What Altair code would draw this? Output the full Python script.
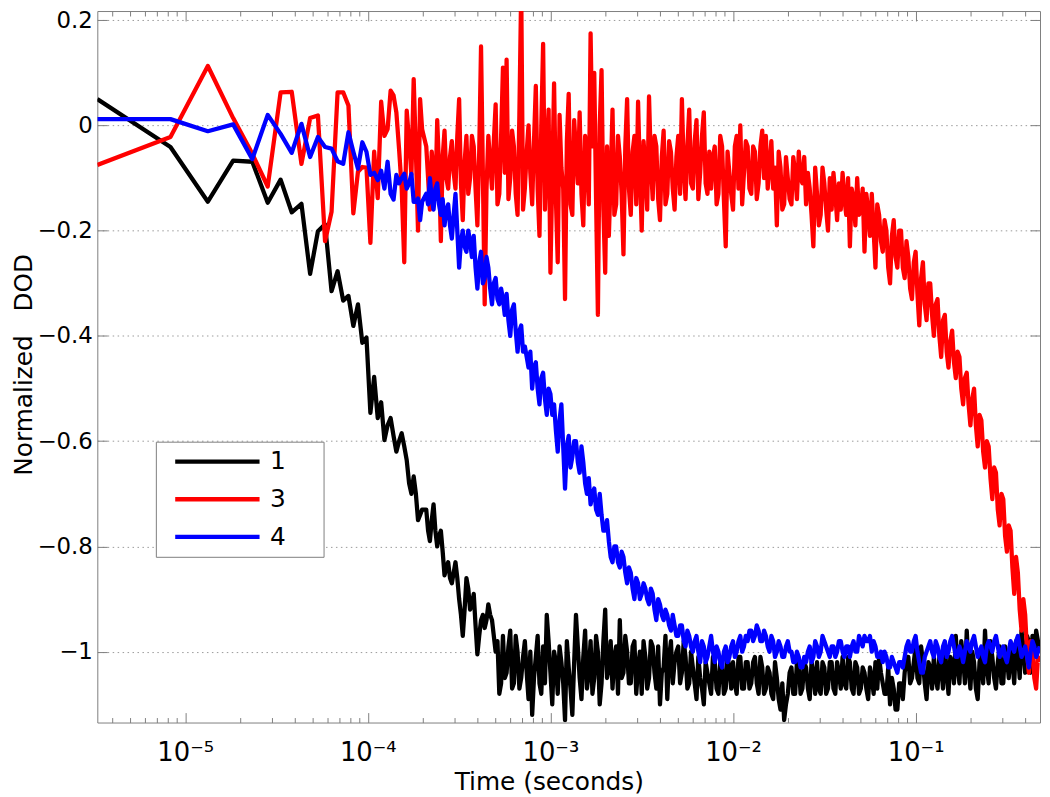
import altair as alt
import pandas as pd

# ---------------- data ----------------
# first samples (microseconds), individually visible on the log axis
early_t_us = [3.3, 8.3, 13.3, 18.3, 23.3, 28.3, 33.3, 38.3, 43.3, 48.3,
              53.3, 58.3, 63.3, 68.3, 73.3, 78.3, 83.3, 88.3, 93.3, 98.3,
              103.3, 108.3, 113.3, 118.3, 123.3, 128.3, 133.3, 138.3, 143.3, 148.3,
              153.3, 158.3, 163.3, 168.3, 173.3, 178.3, 183.3, 188.3, 193.3, 198.3]

# later read-out positions, log10(time in s)
dense_log_t = [-3.68, -3.66, -3.64, -3.62, -3.60, -3.58, -3.56, -3.54, -3.52, -3.50,
               -3.48, -3.46, -3.44, -3.42, -3.40, -3.38, -3.36, -3.34, -3.32, -3.30,
               -3.28, -3.26, -3.24, -3.22, -3.20, -3.18, -3.16, -3.14, -3.12, -3.10,
               -3.08, -3.06, -3.04, -3.02, -3.00, -2.98, -2.96, -2.94, -2.92, -2.90,
               -2.88, -2.86, -2.84, -2.82, -2.80, -2.78, -2.76, -2.74, -2.72, -2.70,
               -2.68, -2.66, -2.64, -2.62, -2.60, -2.58, -2.56, -2.54, -2.52, -2.50,
               -2.48, -2.46, -2.44, -2.42, -2.40, -2.38, -2.36, -2.34, -2.32, -2.30,
               -2.28, -2.26, -2.24, -2.22, -2.20, -2.18, -2.16, -2.14, -2.12, -2.10,
               -2.08, -2.06, -2.04, -2.02, -2.00, -1.98, -1.96, -1.94, -1.92, -1.90,
               -1.88, -1.86, -1.84, -1.82, -1.80, -1.78, -1.76, -1.74, -1.72, -1.70,
               -1.68, -1.66, -1.64, -1.62, -1.60, -1.58, -1.56, -1.54, -1.52, -1.50,
               -1.48, -1.46, -1.44, -1.42, -1.40, -1.38, -1.36, -1.34, -1.32, -1.30,
               -1.28, -1.26, -1.24, -1.22, -1.20, -1.18, -1.16, -1.14, -1.12, -1.10,
               -1.08, -1.06, -1.04, -1.02, -1.00, -0.98, -0.96, -0.94, -0.92, -0.90,
               -0.88, -0.86, -0.84, -0.82, -0.80, -0.78, -0.76, -0.74, -0.72, -0.70,
               -0.68, -0.66, -0.64, -0.62, -0.60, -0.58, -0.56, -0.54, -0.52, -0.50,
               -0.48, -0.46, -0.44, -0.42, -0.40, -0.38, -0.36, -0.34, -0.32]

# in-between read-out positions, log10(time in s)
mid_log_t = [-3.67, -3.65, -3.63, -3.61, -3.59, -3.57, -3.55, -3.53, -3.51, -3.49,
             -3.47, -3.45, -3.43, -3.41, -3.39, -3.37, -3.35, -3.33, -3.31, -3.29,
             -3.27, -3.25, -3.23, -3.21, -3.19, -3.17, -3.15, -3.13, -3.11, -3.09,
             -3.07, -3.05, -3.03, -3.01, -2.99, -2.97, -2.95, -2.93, -2.91, -2.89,
             -2.87, -2.85, -2.83, -2.81, -2.79, -2.77, -2.75, -2.73, -2.71, -2.69,
             -2.67, -2.65, -2.63, -2.61, -2.59, -2.57, -2.55, -2.53, -2.51, -2.49,
             -2.47, -2.45, -2.43, -2.41, -2.39, -2.37, -2.35, -2.33, -2.31, -2.29,
             -2.27, -2.25, -2.23, -2.21, -2.19, -2.17, -2.15, -2.13, -2.11, -2.09,
             -2.07, -2.05, -2.03, -2.01, -1.99, -1.97, -1.95, -1.93, -1.91, -1.89,
             -1.87, -1.85, -1.83, -1.81, -1.79, -1.77, -1.75, -1.73, -1.71, -1.69,
             -1.67, -1.65, -1.63, -1.61, -1.59, -1.57, -1.55, -1.53, -1.51, -1.49,
             -1.47, -1.45, -1.43, -1.41, -1.39, -1.37, -1.35, -1.33, -1.31, -1.29,
             -1.27, -1.25, -1.23, -1.21, -1.19, -1.17, -1.15, -1.13, -1.11, -1.09,
             -1.07, -1.05, -1.03, -1.01, -0.99, -0.97, -0.95, -0.93, -0.91, -0.89,
             -0.87, -0.85, -0.83, -0.81, -0.79, -0.77, -0.75, -0.73, -0.71, -0.69,
             -0.67, -0.65, -0.63, -0.61, -0.59, -0.57, -0.55, -0.53, -0.51, -0.49,
             -0.47, -0.45, -0.43, -0.41, -0.39, -0.37, -0.35, -0.33]

series_names = ["1", "3", "4"]
series_colors = ["#000000", "#ff0000", "#0000ff"]

# ---- series "1" (black)
s1_early = [0.05, -0.041, -0.145, -0.067, -0.069, -0.147, -0.103, -0.165, -0.149, -0.282,
            -0.201, -0.188, -0.315, -0.277, -0.333, -0.324, -0.381, -0.34, -0.413, -0.403,
            -0.546, -0.478, -0.556, -0.526, -0.598, -0.57, -0.556, -0.59, -0.62, -0.60,
            -0.585, -0.61, -0.636, -0.68, -0.70, -0.667, -0.70, -0.75, -0.74, -0.73]
s1_late = [-0.73, -0.79, -0.72, -0.80, -0.77, -0.855, -0.83, -0.87, -0.83, -0.90,
           -0.97, -0.86, -0.92, -0.89, -1.005, -0.94, -0.955, -0.91, -0.94, -1.00,
           -1.08, -0.97, -1.04, -0.96, -1.06, -1.00, -1.05, -0.98, -1.09, -1.12,
           -1.01, -1.06, -0.99, -0.93, -1.04, -1.00, -1.08, -1.02, -1.13, -1.03,
           -1.12, -0.93, -1.05, -1.01, -1.07, -0.98, -1.05, -1.00, -1.06, -0.92,
           -1.03, -1.07, -0.99, -0.94, -1.04, -1.00, -1.06, -0.98, -1.03, -1.08,
           -1.01, -1.05, -0.99, -1.07, -1.10, -1.03, -1.09, -0.98, -1.02, -0.99,
           -1.04, -1.01, -1.06, -1.03, -1.09, -1.05, -1.10, -1.04, -1.08, -1.02,
           -1.08, -1.02, -1.07, -1.03, -1.02, -1.08, -1.01, -1.07, -1.02, -1.06,
           -1.01, -1.08, -1.03, -1.07, -1.04, -1.09, -1.05, -1.11, -1.13, -1.08,
           -1.03, -1.08, -1.02, -1.07, -1.03, -1.09, -1.04, -1.02, -1.08, -1.03,
           -1.07, -1.02, -1.08, -1.04, -1.01, -1.07, -1.02, -1.08, -1.03, -1.07,
           -1.04, -1.09, -1.05, -1.02, -1.01, -1.06, -1.08, -1.10, -1.07, -1.11,
           -1.06, -1.04, -1.01, -1.05, -0.99, -1.06, -1.02, -1.09, -1.03, -1.01,
           -1.07, -1.03, -0.99, -1.08, -1.02, -0.97, -1.06, -1.01, -0.96, -1.07,
           -1.02, -1.09, -1.00, -0.96, -1.06, -1.01, -1.07, -0.99, -1.06, -1.01,
           -0.99, -1.06, -1.00, -0.96, -1.04, -0.98, -0.97, -0.96, -1.00]
s1_mid = [-0.77, -0.75, -0.77, -0.78, -0.81, -0.84, -0.86, -0.85, -0.86, -0.93,
          -0.92, -0.88, -0.91, -0.95, -0.97, -0.93, -0.94, -0.93, -0.97, -0.98,
          -1.06, -1.05, -0.99, -1.07, -0.97, -1.07, -1.01, -1.04, -1.00, -1.05,
          -0.97, -1.08, -1.06, -0.98, -1.10, -1.02, -0.99, -1.06, -0.98, -1.07,
          -1.02, -0.99, -1.09, -0.96, -1.04, -1.08, -0.97, -1.10, -0.98, -1.05,
          -0.98, -1.01, -1.08, -1.05, -0.97, -1.06, -0.99, -1.08, -1.00, -0.98,
          -1.07, -0.98, -1.04, -0.99, -1.04, -0.97, -1.01, -1.06, -1.00, -1.06,
          -0.98, -1.07, -1.00, -1.06, -1.01, -1.07, -1.02, -1.06, -1.01, -1.07,
          -1.02, -1.08, -1.01, -1.07, -1.06, -1.01, -1.07, -1.02, -1.07, -1.02,
          -1.06, -1.01, -1.08, -1.03, -1.08, -1.02, -1.09, -1.06, -1.10, -1.04,
          -1.08, -1.02, -1.08, -1.02, -1.07, -1.02, -1.08, -1.07, -1.02, -1.08,
          -1.02, -1.07, -1.02, -1.07, -1.06, -1.01, -1.07, -1.02, -1.08, -1.03,
          -1.07, -1.03, -1.08, -1.07, -1.04, -1.08, -1.03, -1.05, -1.11, -1.06,
          -1.09, -1.01, -1.06, -1.02, -1.05, -0.99, -1.06, -1.02, -1.07, -1.05,
          -1.01, -1.07, -1.04, -1.01, -1.06, -1.03, -0.98, -1.06, -1.03, -1.00,
          -1.07, -1.02, -1.06, -1.03, -0.98, -1.05, -1.02, -1.06, -0.99, -1.05,
          -1.02, -0.98, -1.05, -1.00, -0.97, -1.04, -1.01, -0.98]

# ---- series "3" (red)
s3_early = [-0.075, -0.022, 0.113, 0.014, -0.054, -0.116, 0.063, 0.064, -0.073, 0.014,
            0.019, -0.22, -0.164, 0.063, 0.063, 0.038, -0.167, -0.088, -0.079, -0.08,
            -0.223, -0.05, -0.138, 0.045, -0.02, -0.007, 0.066, 0.057, 0.025, -0.045,
            -0.12, -0.26, 0.028, -0.03, -0.095, 0.088, -0.05, -0.20, 0.05, -0.007]
s3_late = [-0.04, -0.16, -0.09, 0.01, -0.22, -0.01, -0.12, -0.03, -0.12, 0.05,
           -0.18, -0.02, -0.10, -0.04, -0.19, 0.15, -0.34, -0.02, -0.12, 0.04,
           -0.13, 0.11, 0.125, -0.10, -0.04, -0.17, 0.26, -0.12, 0.00, -0.15,
           0.075, -0.21, 0.155, -0.05, -0.28, 0.08, -0.26, -0.08, -0.33, 0.06,
           -0.17, -0.05, 0.025, -0.19, -0.06, 0.175, 0.10, -0.36, 0.105, -0.28,
           -0.21, 0.03, -0.15, -0.06, -0.245, 0.05, -0.17, -0.02, 0.045, -0.20,
           -0.08, 0.055, -0.14, -0.04, -0.18, -0.01, -0.13, -0.05, -0.16, -0.02,
           0.05, -0.14, 0.03, -0.12, 0.01, -0.09, 0.025, -0.13, -0.12, -0.04,
           -0.13, -0.04, -0.23, -0.09, -0.16, -0.02, 0.00, -0.09, -0.04, -0.13,
           -0.05, -0.11, -0.01, -0.02, -0.08, -0.12, -0.19, -0.08, -0.15, -0.10,
           -0.15, -0.09, -0.05, -0.11, -0.15, -0.12, -0.23, -0.13, -0.17, -0.11,
           -0.20, -0.16, -0.13, -0.11, -0.09, -0.17, -0.23, -0.14, -0.10, -0.16,
           -0.24, -0.16, -0.13, -0.27, -0.17, -0.24, -0.20, -0.30, -0.18, -0.27,
           -0.20, -0.29, -0.25, -0.33, -0.24, -0.38, -0.26, -0.37, -0.30, -0.40,
           -0.33, -0.44, -0.36, -0.46, -0.39, -0.48, -0.44, -0.53, -0.47, -0.57,
           -0.50, -0.61, -0.56, -0.65, -0.61, -0.71, -0.66, -0.76, -0.71, -0.81,
           -0.77, -0.89, -0.85, -0.96, -0.93, -1.04, -0.99, -1.07, -1.02]
s3_mid = [-0.10, -0.05, -0.14, -0.08, -0.06, -0.10, -0.06, -0.09, -0.02, -0.11,
          -0.07, -0.13, -0.02, -0.12, -0.05, -0.09, -0.12, -0.07, -0.03, -0.15,
          -0.02, -0.09, -0.14, -0.01, -0.13, 0.02, -0.16, -0.05, -0.09, -0.03,
          -0.12, 0.00, -0.16, 0.03, -0.10, -0.14, 0.02, -0.12, -0.03, -0.15,
          0.01, -0.11, -0.13, -0.02, -0.15, -0.04, -0.14, 0.00, -0.16, -0.04,
          -0.10, -0.17, -0.02, -0.13, -0.04, -0.12, -0.05, -0.15, -0.09, -0.03,
          -0.16, -0.07, -0.02, -0.14, -0.06, -0.15, -0.03, -0.12, -0.06, -0.13,
          -0.08, -0.04, -0.11, -0.03, -0.14, -0.02, -0.11, -0.05, -0.06, -0.15,
          -0.02, -0.14, -0.05, -0.13, -0.04, -0.12, -0.15, -0.03, -0.12, -0.04,
          -0.14, -0.04, -0.10, -0.12, -0.03, -0.08, -0.05, -0.16, -0.06, -0.14,
          -0.06, -0.14, -0.10, -0.06, -0.09, -0.17, -0.08, -0.19, -0.08, -0.16,
          -0.10, -0.09, -0.18, -0.16, -0.14, -0.10, -0.12, -0.19, -0.17, -0.12,
          -0.13, -0.21, -0.20, -0.15, -0.22, -0.18, -0.27, -0.21, -0.25, -0.20,
          -0.27, -0.22, -0.31, -0.26, -0.32, -0.29, -0.34, -0.30, -0.36, -0.34,
          -0.40, -0.37, -0.43, -0.41, -0.45, -0.43, -0.50, -0.48, -0.53, -0.52,
          -0.57, -0.55, -0.62, -0.60, -0.67, -0.65, -0.73, -0.70, -0.78, -0.76,
          -0.84, -0.82, -0.92, -0.90, -1.00, -0.98, -1.05, -1.01]

# ---- series "4" (blue)
s4_early = [0.012, 0.012, -0.011, 0.002, -0.064, 0.02, -0.016, -0.052, 0.003, -0.06,
            -0.022, -0.041, -0.044, -0.068, -0.073, -0.013, -0.05, -0.082, -0.032, -0.05,
            -0.094, -0.09, -0.104, -0.086, -0.12, -0.069, -0.13, -0.141, -0.094, -0.11,
            -0.10, -0.092, -0.12, -0.11, -0.092, -0.145, -0.145, -0.139, -0.18, -0.145]
s4_late = [-0.13, -0.10, -0.16, -0.11, -0.17, -0.19, -0.15, -0.215, -0.13, -0.27,
           -0.20, -0.24, -0.22, -0.21, -0.31, -0.24, -0.29, -0.27, -0.34, -0.29,
           -0.34, -0.33, -0.32, -0.40, -0.34, -0.43, -0.38, -0.42, -0.46, -0.50,
           -0.45, -0.53, -0.47, -0.55, -0.51, -0.53, -0.62, -0.53, -0.69, -0.59,
           -0.63, -0.60, -0.66, -0.64, -0.70, -0.72, -0.69, -0.74, -0.74, -0.77,
           -0.79, -0.83, -0.80, -0.84, -0.82, -0.87, -0.85, -0.90, -0.87, -0.89,
           -0.88, -0.91, -0.89, -0.94, -0.91, -0.94, -0.93, -0.96, -0.95, -0.97,
           -0.95, -0.99, -0.97, -1.00, -0.97, -1.02, -0.99, -1.01, -0.97, -1.02,
           -1.00, -1.03, -0.99, -1.01, -0.98, -1.00, -0.97, -0.99, -0.98, -0.96,
           -0.97, -0.96, -0.98, -0.97, -1.00, -0.98, -1.00, -0.99, -1.01, -0.98,
           -1.00, -1.02, -1.01, -1.03, -1.02, -0.99, -1.01, -0.99, -1.00, -0.98,
           -1.00, -0.99, -1.01, -0.98, -1.00, -0.99, -1.01, -0.98, -1.00, -0.98,
           -0.97, -0.98, -1.00, -0.99, -1.01, -1.02, -1.01, -1.03, -1.02, -1.04,
           -1.02, -1.01, -0.98, -1.00, -0.97, -1.02, -1.04, -1.00, -0.98, -1.01,
           -0.99, -1.02, -0.98, -1.00, -0.97, -1.01, -0.99, -1.02, -0.98, -1.00,
           -0.97, -1.01, -0.99, -1.02, -0.98, -1.00, -0.97, -1.01, -0.99, -1.02,
           -0.98, -1.00, -0.97, -1.01, -0.99, -1.03, -0.98, -1.01, -0.99]
s4_mid = [-0.15, -0.14, -0.12, -0.15, -0.14, -0.16, -0.19, -0.17, -0.20, -0.22,
          -0.23, -0.20, -0.25, -0.27, -0.26, -0.30, -0.25, -0.31, -0.30, -0.33,
          -0.31, -0.36, -0.37, -0.35, -0.39, -0.39, -0.43, -0.44, -0.43, -0.46,
          -0.50, -0.48, -0.52, -0.50, -0.55, -0.58, -0.56, -0.61, -0.61, -0.65,
          -0.60, -0.64, -0.61, -0.68, -0.67, -0.70, -0.73, -0.70, -0.77, -0.75,
          -0.82, -0.80, -0.83, -0.81, -0.85, -0.84, -0.88, -0.86, -0.90, -0.87,
          -0.90, -0.88, -0.92, -0.90, -0.93, -0.92, -0.95, -0.93, -0.97, -0.95,
          -0.98, -0.96, -0.99, -0.98, -1.00, -0.98, -1.02, -0.99, -1.00, -0.99,
          -1.02, -1.00, -1.02, -0.99, -1.01, -0.98, -1.00, -0.97, -0.96, -0.98,
          -0.95, -0.98, -0.96, -0.99, -0.97, -1.01, -0.98, -1.01, -0.99, -1.00,
          -1.02, -1.00, -1.03, -1.01, -1.00, -1.02, -0.98, -1.01, -0.97, -0.99,
          -1.01, -0.99, -1.00, -0.98, -1.01, -0.99, -0.99, -1.00, -0.97, -0.99,
          -0.98, -0.97, -0.98, -1.01, -1.00, -1.00, -1.03, -1.01, -1.03, -1.02,
          -1.03, -0.99, -1.00, -0.98, -1.00, -1.04, -1.01, -0.99, -1.00, -0.98,
          -1.01, -0.99, -1.01, -0.98, -0.99, -1.01, -1.00, -1.00, -0.99, -0.98,
          -0.99, -1.00, -1.01, -0.99, -0.99, -0.98, -0.99, -1.00, -1.01, -1.00,
          -0.99, -0.98, -0.99, -1.00, -1.01, -1.00, -0.99, -1.00]

x_major_ticks = [1e-5, 1e-4, 1e-3, 1e-2, 1e-1]
x_minor_ticks = [m * 10.0 ** d for d in range(-6, 0) for m in range(2, 10)
                 if 3.3e-6 <= m * 10.0 ** d <= 0.48]
y_ticks = [-1.0, -0.8, -0.6, -0.4, -0.2, 0.0, 0.2]

# ---------------- table ----------------
t_early = [u * 1e-6 for u in early_t_us]
t_late = [10 ** e for e in dense_log_t]
t_mid = [10 ** e for e in mid_log_t]


def frame(name, early, late, mid):
    rows = []
    for tt, vv in zip(t_early, early):
        rows.append((tt, vv))
    for tt, vv in zip(t_late, late):
        rows.append((tt, vv))
    for tt, vv in zip(t_mid, mid):
        rows.append((tt, vv))
    rows.sort(key=lambda r: r[0])
    return pd.DataFrame({"t": [r[0] for r in rows], "v": [r[1] for r in rows],
                         "series": name, "idx": list(range(len(rows)))})


df1 = frame("1", s1_early, s1_late, s1_mid)
df3 = frame("3", s3_early, s3_late, s3_mid)
df4 = frame("4", s4_early, s4_late, s4_mid)

FONT = "DejaVu Sans"
GRAY = "#7f7f7f"
LW = 4.3

xscale = alt.Scale(type="log", domain=[3.3e-6, 0.48], nice=False)
yscale = alt.Scale(domain=[-1.1346, 0.2174], nice=False, zero=False)
cscale = alt.Scale(domain=series_names, range=series_colors)

legend = alt.Legend(
    orient="none", legendX=59, legendY=434, title=None,
    symbolType="stroke", symbolSize=7225, symbolStrokeWidth=LW,
    symbolOffset=16, labelOffset=8, clipHeight=38, rowPadding=0, padding=1,
    labelFont=FONT, labelFontSize=25, labelColor="#000000",
    labelExpr="datum.label + '\u00a0\u00a0\u00a0\u00a0\u2009\u200b'",
    strokeColor=GRAY, fillColor="#ffffff", cornerRadius=0,
)

label_expr = ("datum.value < 2e-5 ? '10\u207b\u2075' : datum.value < 2e-4 ? '10\u207b\u2074' : "
              "datum.value < 2e-3 ? '10\u207b\u00b3' : datum.value < 2e-2 ? '10\u207b\u00b2' : '10\u207b\u00b9'")

ax_bottom_major = alt.Axis(orient="bottom", values=x_major_ticks, offset=-10, tickSize=10,
                           tickColor=GRAY, domain=False, grid=False, labelExpr=label_expr,
                           labelFont=FONT, labelFontSize=26, labelPadding=17, labelFlush=False,
                           labelOverlap=False, labelColor="#000000",
                           title="Time (seconds)", titleFont=FONT, titleFontSize=25,
                           titleFontWeight="normal", titleX=455, titleY=77,
                           titleBaseline="alphabetic", titleAlign="center", titleColor="#000000")
ax_bottom_minor = alt.Axis(orient="bottom", values=x_minor_ticks, offset=-5, tickSize=5,
                           tickColor=GRAY, domain=False, grid=False, labels=False, title=None)
ax_top_major = alt.Axis(orient="top", values=x_major_ticks, offset=-10, tickSize=10,
                        tickColor=GRAY, domain=False, grid=False, labels=False, title=None)
ax_top_minor = alt.Axis(orient="top", values=x_minor_ticks, offset=-5, tickSize=5,
                        tickColor=GRAY, domain=False, grid=False, labels=False, title=None)

ax_left_grid = alt.Axis(orient="left", values=y_ticks, grid=True, gridColor="#9a9a9a",
                        gridDash=[1.5, 3.5], gridWidth=1, ticks=False, labels=False, domain=False,
                        title="Normalized \u00a0\u00a0DOD", titleFont=FONT, titleFontSize=25,
                        titleFontWeight="normal", titleAngle=270, titleX=-66, titleY=356,
                        titleBaseline="alphabetic", titleAlign="center", titleColor="#000000")
ax_left_ticks = alt.Axis(orient="left", values=y_ticks, offset=-10, tickSize=10, tickColor=GRAY,
                         domain=False, grid=False, labelFont=FONT, labelFontSize=23,
                         labelPadding=5, format="~g", labelColor="#000000", title=None)
ax_right_ticks = alt.Axis(orient="right", values=y_ticks, offset=-10, tickSize=10, tickColor=GRAY,
                          domain=False, grid=False, labels=False, title=None)


def line_layer(df, xaxis, yaxis):
    enc = dict(
        x=alt.X("t:Q", scale=xscale, axis=xaxis),
        y=alt.Y("v:Q", scale=yscale, axis=yaxis),
        color=alt.Color("series:N", scale=cscale, legend=legend),
        order=alt.Order("idx:Q"),
    )
    return alt.Chart(df).mark_line(strokeWidth=LW, clip=True, strokeJoin="round").encode(**enc)


l1 = line_layer(df1, ax_bottom_major, ax_left_grid)
l3 = line_layer(df3, ax_bottom_minor, ax_left_ticks)
l4 = line_layer(df4, ax_top_major, ax_right_ticks)
hidden = alt.Chart(df1).mark_line(opacity=0, clip=True).encode(
    x=alt.X("t:Q", scale=xscale, axis=ax_top_minor),
    y=alt.Y("v:Q", scale=yscale, axis=None),
)

chart = (
    alt.layer(l1, l3, l4, hidden)
    .resolve_axis(x="independent", y="independent")
    .properties(width=950, height=717,
                autosize=alt.AutoSizeParams(type="none"),
                padding={"left": 90, "top": 0, "right": 2, "bottom": 72},
                background="#ffffff")
    .configure_view(stroke=GRAY, strokeWidth=1)
    .configure_axis(tickWidth=1)
)

chart.save("out.html", embed_options={"renderer": "svg", "actions": False})
